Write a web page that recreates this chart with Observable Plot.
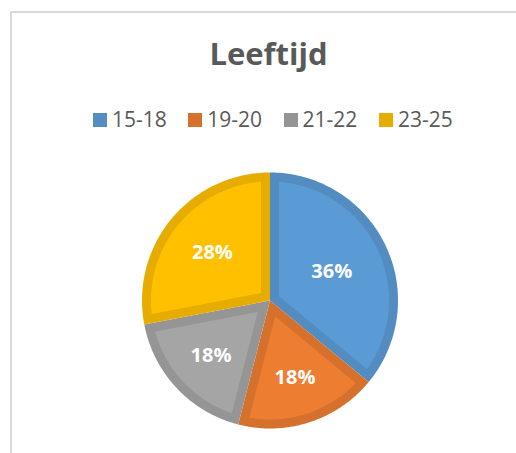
<!DOCTYPE html>
<html>
<head>
<meta charset="utf-8">
<script src="https://cdn.jsdelivr.net/npm/d3@7"></script>
<script src="https://cdn.jsdelivr.net/npm/@observablehq/plot@0.6"></script>
<style>
  html, body { margin: 0; padding: 0; background: #ffffff; overflow: hidden; }
  #page { position: relative; width: 516px; height: 453px; overflow: hidden; font-family: "Open Sans", sans-serif; background: #fff; }
  #header { position: relative; height: 160px; }
  #title { position: absolute; left: 0; width: 537px; top: 38px; text-align: center; font-weight: 700; font-size: 31px; line-height: 1; color: #595959; white-space: nowrap; }
  #legend { position: absolute; left: 93px; top: 109px; display: flex; height: 21px; }
  .item { width: 95.3px; display: flex; align-items: center; height: 21px; }
  .sw { width: 14px; height: 14px; flex: none; }
  .lab { margin-left: 5px; font-size: 21px; line-height: 1; color: #595959; white-space: nowrap; }
  #chart svg { display: block; }
  #frame { position: absolute; left: 10px; top: 11px; width: 800px; height: 800px; border: 2px solid #d9d9d9; box-sizing: border-box; pointer-events: none; z-index: 5; }
</style>
</head>
<body>
<div id="page">
  <div id="header">
    <div id="title"></div>
    <div id="legend"></div>
  </div>
  <div id="chart"></div>
  <div id="frame"></div>
</div>
<script>
// ---- data ----
const chartTitle = "Leeftijd";
const categories = ["15-18", "19-20", "21-22", "23-25"];
const percentages = [36, 18, 18, 28];
// ---- styles ----
const fillColors = ["#5B9BD5", "#ED7D31", "#A5A5A5", "#FFC000"];
const borderColors = ["#528CC0", "#D5712C", "#959595", "#E6AD00"];

document.getElementById("title").textContent = chartTitle;

// legend
const legend = d3.select("#legend");
categories.forEach((c, i) => {
  const it = legend.append("div").attr("class", "item");
  it.append("div").attr("class", "sw").style("background", borderColors[i]);
  it.append("div").attr("class", "lab").text(c);
});

// geometry (unit circle; radius in px = 128)
const radiusPx = 128;
const inset = 9 / radiusPx;
const arcs = d3.pie().sort(null).value(d => d)(percentages);
const outerRows = [];
const innerRows = [];
const labelRows = [];
const steps = 120;
arcs.forEach((a, i) => {
  const cat = categories[i];
  const s = a.startAngle, e = a.endAngle, th = e - s, mid = (s + e) / 2;
  // outer polygon
  outerRows.push({key: "o" + cat, x: 0, y: 0});
  for (let k = 0; k <= steps; k++) {
    const t = s + th * k / steps;
    outerRows.push({key: "o" + cat, x: Math.sin(t), y: Math.cos(t)});
  }
  outerRows.push({key: "o" + cat, x: 0, y: 0});
  // inner (inset) polygon
  const R = 1 - inset;
  const delta = Math.asin(inset / R);
  const apex = inset / Math.sin(th / 2);
  innerRows.push({key: "i" + cat, x: apex * Math.sin(mid), y: apex * Math.cos(mid)});
  for (let k = 0; k <= steps; k++) {
    const t = (s + delta) + (th - 2 * delta) * k / steps;
    innerRows.push({key: "i" + cat, x: R * Math.sin(t), y: R * Math.cos(t)});
  }
  innerRows.push({key: "i" + cat, x: apex * Math.sin(mid), y: apex * Math.cos(mid)});
  // label at sector centroid
  const rc = 4 * Math.sin(th / 2) / (3 * th);
  labelRows.push({x: rc * Math.sin(mid), y: rc * Math.cos(mid), text: percentages[i] + "%"});
});

const plot = Plot.plot({
  width: 516,
  height: 293,
  marginLeft: 141.5,
  marginRight: 118.5,
  marginTop: 12,
  marginBottom: 25,
  x: {domain: [-1, 1], axis: null},
  y: {domain: [-1, 1], axis: null},
  color: {
    type: "ordinal",
    domain: [...categories.map(c => "o" + c), ...categories.map(c => "i" + c)],
    range: [...borderColors, ...fillColors]
  },
  style: {background: "#ffffff"},
  marks: [
    Plot.line(outerRows, {x: "x", y: "y", z: "key", fill: "key", stroke: "none"}),
    Plot.line(innerRows, {x: "x", y: "y", z: "key", fill: "key", stroke: "none"}),
    Plot.text(labelRows, {x: "x", y: "y", text: "text", fill: "#ffffff", fontSize: 20, fontWeight: "bold", fontFamily: "Open Sans"})
  ]
});
document.getElementById("chart").appendChild(plot);
</script>
</body>
</html>
